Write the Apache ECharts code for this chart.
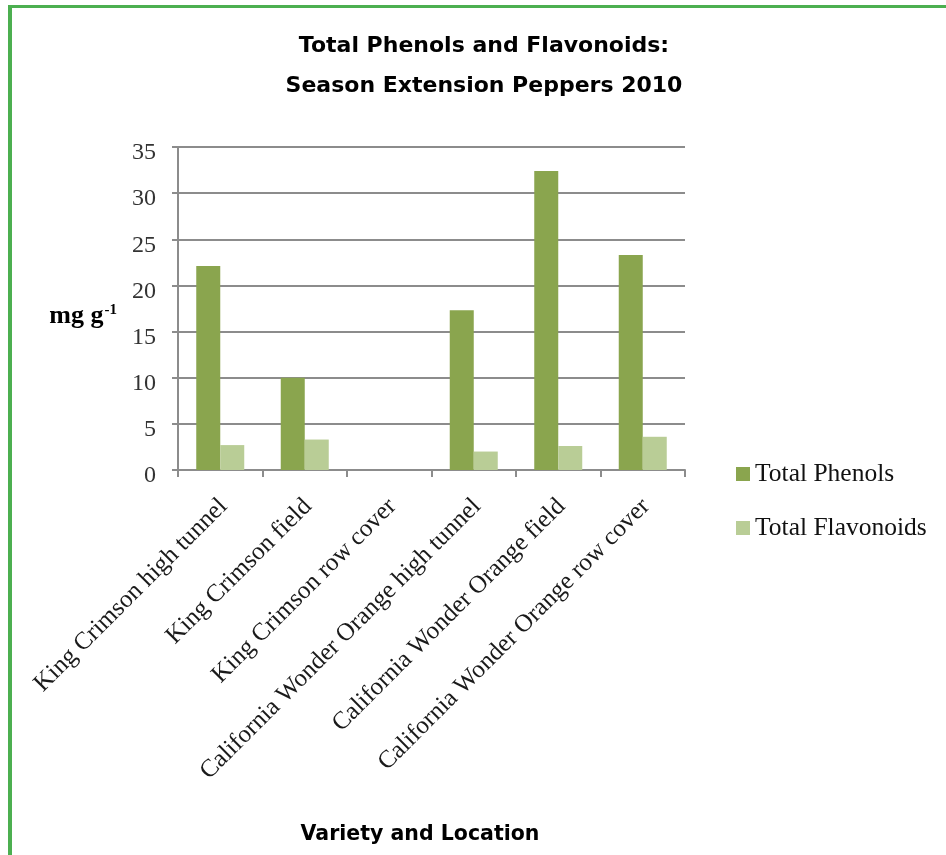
<!DOCTYPE html>
<html>
<head>
<meta charset="utf-8">
<script src="https://cdn.jsdelivr.net/npm/echarts@6/dist/echarts.min.js"></script>
<style>
html,body{margin:0;padding:0;background:#fff;}
#chart{width:946px;height:855px;}
</style>
</head>
<body>
<div id="chart"></div>
<script>
const categories = [
  'King Crimson high tunnel',
  'King Crimson field',
  'King Crimson row cover',
  'California Wonder Orange high tunnel',
  'California Wonder Orange field',
  'California Wonder Orange row cover'
];
const totalPhenols = [22.1, 10.0, 0, 17.3, 32.4, 23.3];
const totalFlavonoids = [2.7, 3.3, 0, 2.0, 2.6, 3.6];
const seriesNames = ['Total Phenols', 'Total Flavonoids'];
const titleLines = ['Total Phenols and Flavonoids:', 'Season Extension Peppers 2010'];
const xAxisTitle = 'Variety and Location';

const serif = '"Liberation Serif", "Times New Roman", serif';
const sans = '"DejaVu Sans", sans-serif';
const gray = '#8c8c8c';

const chart = echarts.init(document.getElementById('chart'), null, {renderer: 'canvas'});
chart.setOption({
  animation: false,
  backgroundColor: '#fff',
  title: {
    text: titleLines.join('\n'),
    left: 479,
    top: 21,
    textAlign: 'center',
    textStyle: {fontFamily: sans, fontWeight: 'bold', fontSize: 22, lineHeight: 40, color: '#000'}
  },
  legend: {
    orient: 'vertical',
    left: 736,
    top: 461,
    padding: 0,
    itemWidth: 14,
    itemHeight: 14,
    itemGap: 28,
    icon: 'rect',
    textStyle: {fontFamily: serif, fontSize: 25.5, lineHeight: 24, color: '#111'},
    data: seriesNames
  },
  grid: {left: 178, right: 261, top: 147, bottom: 385, containLabel: false},
  xAxis: {
    type: 'category',
    data: categories,
    name: xAxisTitle,
    nameLocation: 'middle',
    nameGap: 354,
    nameTextStyle: {fontFamily: sans, fontWeight: 'bold', fontSize: 20.5, color: '#000', padding: [0, 23, 0, 0]},
    axisLine: {lineStyle: {color: gray, width: 2}},
    axisTick: {show: true, length: 7, alignWithLabel: false, lineStyle: {color: gray, width: 2}},
    axisLabel: {
      interval: 0,
      rotate: 45,
      margin: 14,
      verticalAlign: 'top',
      padding: [3, 11, 0, 0],
      fontFamily: serif,
      fontSize: 25,
      color: '#1a1a1a'
    }
  },
  yAxis: {
    type: 'value',
    min: 0,
    max: 35,
    interval: 5,
    name: '{b|mg g}{s|-1}',
    nameLocation: 'middle',
    nameRotate: 0,
    nameGap: 61,
    nameTextStyle: {
      padding: [16, 0, 0, 0],
      rich: {
        b: {fontFamily: serif, fontWeight: 'bold', fontSize: 26, color: '#000'},
        s: {fontFamily: serif, fontWeight: 'bold', fontSize: 15, color: '#000', verticalAlign: 'top', padding: [0, 0, 12, 1]}
      }
    },
    axisLine: {show: true, lineStyle: {color: gray, width: 2}},
    axisTick: {show: true, length: 6, lineStyle: {color: gray, width: 2}},
    splitLine: {show: true, lineStyle: {color: gray, width: 2}},
    axisLabel: {margin: 22, verticalAlign: 'top', lineHeight: 12, fontFamily: serif, fontSize: 24, color: '#333'}
  },
  graphic: [
    {type: 'rect', silent: true, shape: {x: 8, y: 5, width: 960, height: 3}, style: {fill: '#4caf50'}, z: 100},
    {type: 'rect', silent: true, shape: {x: 8, y: 5, width: 4, height: 870}, style: {fill: '#4caf50'}, z: 100}
  ],
  series: [
    {
      name: seriesNames[0],
      type: 'bar',
      data: totalPhenols,
      barWidth: 24,
      barGap: '0%',
      itemStyle: {color: '#8aa54e'}
    },
    {
      name: seriesNames[1],
      type: 'bar',
      data: totalFlavonoids,
      barWidth: 24,
      itemStyle: {color: '#b9cd96'}
    }
  ]
});
</script>
</body>
</html>
